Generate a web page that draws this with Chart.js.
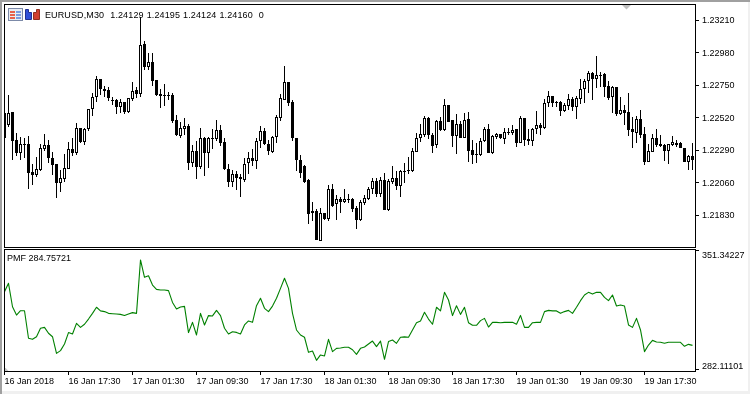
<!DOCTYPE html>
<html>
<head>
<meta charset="utf-8">
<title>EURUSD,M30 PMF</title>
<script src="https://cdn.jsdelivr.net/npm/chart.js@4"></script>
<style>
  html, body { margin: 0; padding: 0; background: #fff; }
  #wrap { position: relative; width: 750px; height: 394px; overflow: hidden; background: #fff; font: 9px "Liberation Sans", sans-serif; color: #000; }
  #wrap canvas { position: absolute; left: 0; }
  #priceChart { top: 0; }
  #pmfChart { top: 245px; }
  .edge { position: absolute; }
  .label { position: absolute; white-space: pre; line-height: 11px; }
</style>
</head>
<body>
<div id="wrap">
  <canvas id="priceChart" width="750" height="250"></canvas>
  <canvas id="pmfChart" width="750" height="149"></canvas>
  <div class="edge" style="left:0;top:0;width:750px;height:2px;background:#a0a0a0"></div>
  <div class="edge" style="left:0;top:0;width:2px;height:394px;background:#a0a0a0"></div>
  <div class="edge" style="left:748px;top:2px;width:2px;height:392px;background:#f0f0f0"></div>
  <div class="edge" style="left:2px;top:391px;width:748px;height:3px;background:#f0f0f0"></div>
  <svg class="edge" style="left:0;top:0" width="750" height="24">
    <rect x="8.5" y="8.5" width="14" height="12" fill="#e8ecf4" stroke="#7c8aa8"/>
    <rect x="10" y="11" width="5" height="2" fill="#e8604c"/><rect x="16" y="11" width="5" height="2" fill="#7c9ce0"/>
    <rect x="10" y="14" width="5" height="2" fill="#e8604c"/><rect x="16" y="14" width="5" height="2" fill="#7c9ce0"/>
    <rect x="10" y="17" width="5" height="2" fill="#e8604c"/><rect x="16" y="17" width="5" height="2" fill="#7c9ce0"/>
    <path d="M25.5 9.5h3v3h3v7h-6z" fill="#3050d8" stroke="#203090"/>
    <path d="M33.5 12.5h3v-3h3v10h-6z" fill="#d04030" stroke="#903020"/>
    <path d="M622 5h9l-4.500 4.500z" fill="#c0c0c0"/>
  </svg>
  <div class="label" style="left:45px;top:10px;letter-spacing:0.12px;word-spacing:0.4px">EURUSD,M30  1.24129 1.24195 1.24124 1.24160  0</div>
  <div class="label" style="left:7px;top:253px">PMF 284.75721</div>
</div>
<script>
const candleIndex = [];
for (let i = 0; i < 173; i++) candleIndex.push(i);

const opens = [1.22552,1.22467,1.22559,1.22361,1.22269,1.22332,1.22332,1.22134,1.22113,1.22148,1.22297,1.22325,1.22233,1.22191,1.22056,1.22085,1.22155,1.22297,1.22269,1.22446,1.22347,1.22439,1.22580,1.22665,1.22792,1.22722,1.22715,1.22644,1.22644,1.22594,1.22630,1.22559,1.22651,1.22715,1.22686,1.23040,1.22877,1.22913,1.22785,1.22686,1.22672,1.22679,1.22679,1.22502,1.22389,1.22439,1.22460,1.22198,1.22283,1.22170,1.22375,1.22269,1.22375,1.22368,1.22431,1.22347,1.22155,1.22063,1.22120,1.22099,1.22078,1.22198,1.22233,1.22212,1.22354,1.22424,1.22332,1.22276,1.22382,1.22516,1.22644,1.22771,1.22630,1.22375,1.22219,1.22177,1.22078,1.21844,1.21858,1.21646,1.21844,1.21802,1.22014,1.21908,1.21943,1.21922,1.21943,1.21943,1.21880,1.21795,1.21915,1.21943,1.22014,1.22071,1.21979,1.22078,1.21865,1.22063,1.22092,1.22035,1.22141,1.22141,1.22141,1.22276,1.22375,1.22396,1.22516,1.22396,1.22325,1.22495,1.22431,1.22609,1.22502,1.22389,1.22474,1.22375,1.22509,1.22290,1.22262,1.22255,1.22354,1.22439,1.22269,1.22382,1.22403,1.22368,1.22417,1.22410,1.22439,1.22339,1.22516,1.22368,1.22354,1.22439,1.22467,1.22446,1.22623,1.22672,1.22630,1.22630,1.22566,1.22601,1.22651,1.22594,1.22651,1.22722,1.22778,1.22835,1.22792,1.22821,1.22828,1.22743,1.22665,1.22736,1.22545,1.22573,1.22559,1.22439,1.22410,1.22509,1.22403,1.22205,1.22276,1.22375,1.22332,1.22325,1.22283,1.22325,1.22339,1.22339,1.22304,1.22205,1.22247];
const highs = [1.22552,1.22679,1.22559,1.22410,1.22382,1.22375,1.22389,1.22191,1.22240,1.22332,1.22403,1.22361,1.22276,1.22191,1.22148,1.22262,1.22347,1.22375,1.22481,1.22446,1.22446,1.22580,1.22693,1.22814,1.22792,1.22743,1.22736,1.22665,1.22651,1.22651,1.22630,1.22658,1.22771,1.22736,1.23231,1.23061,1.22976,1.22976,1.22785,1.22722,1.22757,1.22700,1.22693,1.22538,1.22488,1.22516,1.22474,1.22325,1.22354,1.22446,1.22382,1.22382,1.22439,1.22502,1.22467,1.22375,1.22191,1.22148,1.22141,1.22120,1.22233,1.22276,1.22297,1.22375,1.22460,1.22446,1.22361,1.22389,1.22538,1.22686,1.22884,1.22771,1.22644,1.22375,1.22255,1.22184,1.22085,1.21922,1.21872,1.21880,1.21844,1.22042,1.22049,1.21971,1.21957,1.22014,1.21979,1.21950,1.21894,1.21936,1.21971,1.22028,1.22092,1.22092,1.22099,1.22127,1.22085,1.22177,1.22141,1.22148,1.22198,1.22240,1.22304,1.22410,1.22474,1.22531,1.22524,1.22410,1.22502,1.22524,1.22651,1.22609,1.22502,1.22545,1.22495,1.22552,1.22559,1.22361,1.22339,1.22375,1.22453,1.22474,1.22396,1.22410,1.22403,1.22446,1.22446,1.22467,1.22439,1.22531,1.22516,1.22439,1.22446,1.22566,1.22481,1.22651,1.22708,1.22672,1.22637,1.22637,1.22623,1.22686,1.22665,1.22672,1.22792,1.22792,1.22849,1.22842,1.22955,1.22842,1.22835,1.22778,1.22743,1.22736,1.22665,1.22609,1.22693,1.22524,1.22531,1.22573,1.22453,1.22332,1.22403,1.22439,1.22396,1.22332,1.22332,1.22389,1.22361,1.22347,1.22304,1.22255,1.22339];
const lows = [1.22368,1.22453,1.22219,1.22247,1.22219,1.22233,1.22014,1.22042,1.22099,1.22141,1.22283,1.22198,1.22113,1.21950,1.21993,1.22063,1.22155,1.22247,1.22255,1.22339,1.22325,1.22424,1.22531,1.22630,1.22679,1.22665,1.22637,1.22609,1.22545,1.22552,1.22545,1.22552,1.22637,1.22658,1.22665,1.22856,1.22856,1.22743,1.22672,1.22587,1.22601,1.22644,1.22481,1.22389,1.22375,1.22396,1.22148,1.22170,1.22085,1.22155,1.22106,1.22163,1.22297,1.22354,1.22318,1.22148,1.22028,1.22028,1.22007,1.21957,1.22063,1.22120,1.22177,1.22155,1.22304,1.22325,1.22255,1.22269,1.22339,1.22495,1.22644,1.22601,1.22354,1.22141,1.22092,1.22056,1.21766,1.21788,1.21653,1.21646,1.21795,1.21788,1.21887,1.21795,1.21844,1.21915,1.21915,1.21851,1.21731,1.21788,1.21901,1.21936,1.21979,1.21957,1.21957,1.21865,1.21858,1.22049,1.22007,1.21957,1.22056,1.22120,1.22134,1.22276,1.22347,1.22382,1.22368,1.22269,1.22304,1.22424,1.22424,1.22488,1.22311,1.22262,1.22375,1.22375,1.22205,1.22191,1.22198,1.22247,1.22347,1.22269,1.22262,1.22368,1.22368,1.22332,1.22396,1.22396,1.22311,1.22339,1.22318,1.22325,1.22318,1.22403,1.22396,1.22439,1.22594,1.22594,1.22594,1.22531,1.22559,1.22573,1.22566,1.22509,1.22616,1.22623,1.22693,1.22644,1.22729,1.22736,1.22665,1.22644,1.22552,1.22531,1.22538,1.22467,1.22389,1.22304,1.22339,1.22375,1.22184,1.22205,1.22276,1.22311,1.22311,1.22212,1.22191,1.22318,1.22311,1.22304,1.22205,1.22148,1.22148];
const closes = [1.22375,1.22552,1.22354,1.22269,1.22332,1.22332,1.22127,1.22113,1.22155,1.22304,1.22325,1.22233,1.22184,1.22056,1.22092,1.22163,1.22297,1.22269,1.22446,1.22347,1.22439,1.22580,1.22665,1.22792,1.22722,1.22708,1.22658,1.22644,1.22594,1.22630,1.22559,1.22658,1.22708,1.22686,1.23033,1.22877,1.22913,1.22778,1.22679,1.22672,1.22679,1.22679,1.22495,1.22396,1.22446,1.22460,1.22198,1.22283,1.22170,1.22375,1.22269,1.22375,1.22368,1.22431,1.22339,1.22155,1.22063,1.22120,1.22092,1.22085,1.22191,1.22233,1.22212,1.22354,1.22424,1.22332,1.22283,1.22382,1.22524,1.22658,1.22771,1.22623,1.22375,1.22219,1.22127,1.22063,1.21837,1.21858,1.21653,1.21844,1.21802,1.22014,1.21894,1.21943,1.21922,1.21943,1.21943,1.21872,1.21795,1.21922,1.21950,1.22014,1.22071,1.21979,1.22078,1.21865,1.22071,1.22092,1.22035,1.22141,1.22134,1.22148,1.22283,1.22375,1.22403,1.22516,1.22396,1.22318,1.22495,1.22431,1.22609,1.22488,1.22389,1.22474,1.22375,1.22502,1.22283,1.22255,1.22262,1.22354,1.22439,1.22269,1.22389,1.22403,1.22375,1.22417,1.22410,1.22431,1.22339,1.22516,1.22361,1.22354,1.22439,1.22467,1.22446,1.22623,1.22672,1.22623,1.22630,1.22566,1.22609,1.22651,1.22594,1.22658,1.22722,1.22778,1.22835,1.22792,1.22821,1.22821,1.22736,1.22658,1.22736,1.22545,1.22573,1.22552,1.22431,1.22417,1.22509,1.22396,1.22205,1.22283,1.22375,1.22325,1.22318,1.22283,1.22332,1.22347,1.22325,1.22304,1.22205,1.22247,1.22219];
const pmfValues = [327.3,332.1,318.6,313.8,316.3,316.3,300.4,299.8,301.3,306.2,306.7,303.3,301.3,291.7,293.3,297.1,303.7,302.9,309.0,306.7,308.5,311.5,314.8,318.3,316.2,315.8,314.8,314.6,314.4,314.2,313.6,314.4,315.2,314.8,345.6,335.6,336.5,331.1,328.6,328.3,328.3,327.9,321.1,317.3,318.5,318.8,303.7,309.6,302.3,314.8,308.1,313.5,313.3,316.5,313.5,306.2,302.9,304.2,303.8,302.9,308.1,310.4,309.6,319.2,323.5,317.7,315.8,319.0,323.5,329.2,335.0,329.2,314.8,305.2,302.3,301.0,292.3,293.1,287.7,290.8,290.2,299.8,292.7,294.6,294.8,295.2,295.2,293.8,291.1,294.6,295.4,297.1,298.8,295.6,298.8,288.3,298.5,299.4,297.5,301.0,301.2,301.0,305.2,309.4,310.4,315.4,311.5,308.5,318.3,316.2,326.9,322.5,313.5,319.2,314.2,318.3,309.4,307.9,307.9,310.6,311.9,306.9,309.6,309.6,309.4,309.6,309.6,309.6,308.5,313.6,306.7,306.7,309.4,309.6,309.6,315.8,316.5,316.2,316.2,314.8,315.8,316.5,314.8,318.3,322.1,325.4,326.9,325.9,326.9,326.9,324.0,322.1,325.4,319.0,319.6,319.0,308.1,306.7,311.9,305.2,292.7,296.5,299.2,298.3,298.1,297.5,298.1,298.1,298.1,298.1,295.8,296.9,296.3];
const greyStub = [284, 281.6];

const priceTicks = [1.2321, 1.2298, 1.2275, 1.2252, 1.2229, 1.2206, 1.2183];
const pmfTicks = [351.34227, 282.11101];
const timeTickIndex = [0, 16, 32, 48, 64, 80, 96, 112, 128, 144, 160];
const timeTickLabels = ["16 Jan 2018", "16 Jan 17:30", "17 Jan 01:30", "17 Jan 09:30", "17 Jan 17:30", "18 Jan 01:30", "18 Jan 09:30", "18 Jan 17:30", "19 Jan 01:30", "19 Jan 09:30", "19 Jan 17:30"];

const AXIS_FONT = { family: '"Liberation Sans", sans-serif', size: 9, lineHeight: 1 };
const AXIS_GRID = { offset: false, drawOnChartArea: false, drawTicks: true, color: "#000", tickColor: "#000", tickWidth: 1, tickLength: 4 };

// square frame round the plot area, MT5 style
const framePlugin = {
  id: "frame",
  afterDraw(chart) {
    const { ctx, chartArea: a } = chart;
    ctx.save();
    ctx.strokeStyle = "#000";
    ctx.lineWidth = 1;
    ctx.strokeRect(a.left - 0.5, a.top - 0.5, a.right - a.left + 1, a.bottom - a.top + 1);
    ctx.restore();
  },
};

// candles are pixel snapped in the terminal, so round the bars too
const snapBarsPlugin = {
  id: "snapBars",
  afterDatasetsUpdate(chart) {
    chart.getSortedVisibleDatasetMetas().forEach((meta) => {
      if (meta.type !== "bar") return;
      meta.data.forEach((bar) => {
        bar.y = Math.round(bar.y);
        bar.base = Math.round(bar.base);
        if (bar.y === bar.base) bar.base = bar.y + 1;
      });
    });
  },
};

function fixAxis(scale, size) {
  if (scale.isHorizontal()) scale.height = size;
  else scale.width = size;
  scale.paddingLeft = scale.paddingRight = scale.paddingTop = scale.paddingBottom = 0;
}

function xScale(display) {
  return {
    type: "linear",
    display: display,
    offset: false,
    min: 0.125,
    max: 172.625,
    grid: AXIS_GRID,
    border: { display: false },
    afterBuildTicks(scale) {
      scale.ticks = timeTickIndex.map((v) => ({ value: v }));
    },
    afterFit(scale) {
      fixAxis(scale, display ? 23 : 0);
    },
    ticks: {
      autoSkip: false,
      maxRotation: 0,
      align: "start",
      color: "#000",
      font: AXIS_FONT,
      padding: 2,
      callback: (v) => timeTickLabels[timeTickIndex.indexOf(v)],
    },
  };
}

function yScale(min, max, tickValues, format) {
  return {
    position: "right",
    min: min,
    max: max,
    grid: AXIS_GRID,
    border: { display: false },
    afterBuildTicks(scale) {
      scale.ticks = tickValues.map((v) => ({ value: v }));
    },
    afterFit(scale) {
      fixAxis(scale, 55);
    },
    ticks: { autoSkip: false, color: "#000", font: AXIS_FONT, padding: 3, labelOffset: 1, callback: format },
  };
}

new Chart(document.getElementById("priceChart"), {
  type: "bar",
  data: {
    datasets: [
      {
        label: "body",
        order: 1,
        grouped: false,
        barThickness: 3,
        borderWidth: 1,
        borderSkipped: false,
        inflateAmount: 0,
        borderColor: "#000",
        backgroundColor: (c) => (closes[c.dataIndex] >= opens[c.dataIndex] ? "#fff" : "#000"),
        data: candleIndex.map((i) => ({ x: i, y: [opens[i], closes[i]] })),
      },
      {
        label: "wick",
        order: 2,
        grouped: false,
        barThickness: 1,
        borderWidth: 0,
        inflateAmount: 0,
        backgroundColor: "#000",
        data: candleIndex.map((i) => ({ x: i, y: [lows[i], highs[i]] })),
      },
    ],
  },
  options: {
    responsive: false,
    animation: false,
    devicePixelRatio: 1,
    layout: { padding: { left: 5, top: 5, right: 0, bottom: 3 } },
    plugins: { legend: { display: false }, tooltip: { enabled: false } },
    scales: {
      x: xScale(false),
      y: yScale(1.216036, 1.233162, priceTicks, (v) => v.toFixed(5)),
    },
  },
  plugins: [snapBarsPlugin, framePlugin],
});

new Chart(document.getElementById("pmfChart"), {
  type: "line",
  data: {
    datasets: [
      {
        label: "PMF",
        data: candleIndex.map((i) => ({ x: i, y: pmfValues[i] })),
        borderColor: "#008000",
        borderWidth: 1.1,
        borderJoinStyle: "round",
        pointRadius: 0,
        tension: 0,
      },
      {
        label: "stub",
        data: greyStub.map((v, i) => ({ x: i, y: v })),
        borderWidth: 0,
        pointRadius: 0,
        tension: 0,
        fill: "start",
        backgroundColor: "#c8c8c8",
      },
    ],
  },
  options: {
    responsive: false,
    animation: false,
    devicePixelRatio: 1,
    layout: { padding: { left: 5, top: 5, right: 0, bottom: 0 } },
    plugins: { legend: { display: false }, tooltip: { enabled: false } },
    scales: {
      x: xScale(true),
      // the two scale limits sit just inside the panel, hence the blank line
      y: yScale(281.53, 351.34227, pmfTicks, (v) =>
        v > 300 ? ["", v.toFixed(5)] : [v.toFixed(5), ""]
      ),
    },
  },
  plugins: [framePlugin],
});
</script>
</body>
</html>
